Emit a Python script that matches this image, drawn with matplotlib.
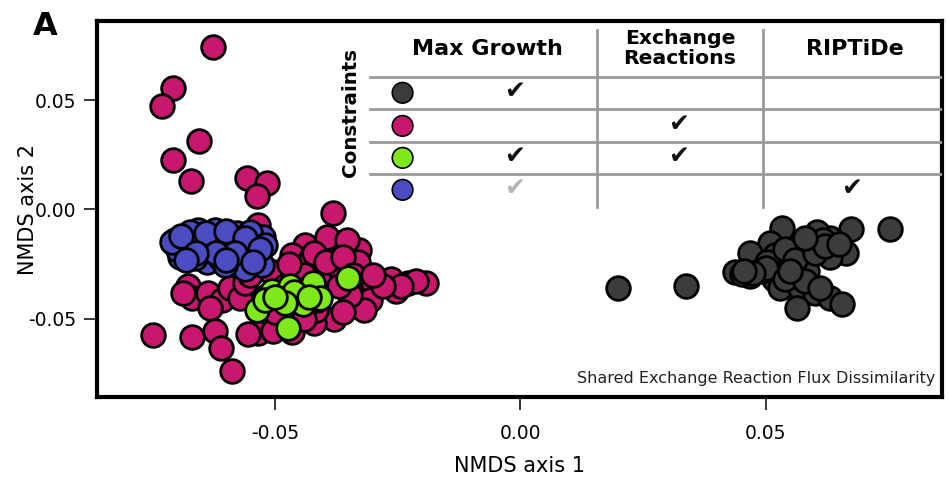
import numpy as np
import matplotlib.pyplot as plt

# NMDS coordinates, one group per constraint set
mag_x = [-0.0626, -0.0708, -0.0730, -0.0654, -0.0708, -0.0671, -0.0556, -0.0515, -0.0536, -0.0382,
         -0.0677, -0.0669, -0.0636, -0.0607, -0.0632, -0.0591, -0.0571, -0.0560, -0.0687,
         -0.0748, -0.0669, -0.0622, -0.0609, -0.0587, -0.0534, -0.0554,
         -0.0438, -0.0464, -0.0372, -0.0329, -0.0393, -0.0352, -0.0454, -0.0407, -0.0387, -0.0299,
         -0.0264, -0.0229, -0.0192, -0.0305, -0.0319, -0.0380, -0.0421, -0.0503, -0.0331, -0.0427,
         -0.0509, -0.0479, -0.0346, -0.0254, -0.0366, -0.0448, -0.0534, -0.0213, -0.0243,
         -0.0420, -0.0395, -0.0360, -0.0340, -0.0440, -0.0470, -0.0415, -0.0360, -0.0500, -0.0520,
         -0.0550, -0.0280, -0.0300, -0.0370, -0.0465, -0.0440]
mag_y = [0.0743, 0.0555, 0.0472, 0.0312, 0.0225, 0.0128, 0.0142, 0.0119, 0.0060, -0.0018,
         -0.0349, -0.0404, -0.0381, -0.0417, -0.0450, -0.0358, -0.0404, -0.0339, -0.0385,
         -0.0573, -0.0583, -0.0555, -0.0633, -0.0739, -0.0564, -0.0569,
         -0.0165, -0.0211, -0.0202, -0.0188, -0.0128, -0.0142, -0.0280, -0.0266, -0.0326, -0.0335,
         -0.0317, -0.0335, -0.0335, -0.0417, -0.0463, -0.0500, -0.0518, -0.0555, -0.0243, -0.0225,
         -0.0280, -0.0349, -0.0390, -0.0372, -0.0280, -0.0486, -0.0073, -0.0326, -0.0349,
         -0.0200, -0.0240, -0.0220, -0.0300, -0.0300, -0.0250, -0.0460, -0.0470, -0.0470, -0.0400,
         -0.0300, -0.0350, -0.0300, -0.0350, -0.0560, -0.0500]

blue_x = [-0.0656, -0.0683, -0.0632, -0.0597, -0.0577, -0.0524, -0.0534, -0.0571, -0.0638, -0.0611,
          -0.0693, -0.0550, -0.0703, -0.0697, -0.0673, -0.0622, -0.0550, -0.0519, -0.0526, -0.0560,
          -0.0601, -0.0663, -0.0652, -0.0591, -0.0710, -0.0690, -0.0640, -0.0600, -0.0560, -0.0530,
          -0.0580, -0.0620, -0.0660, -0.0680, -0.0600, -0.0545]
blue_y = [-0.0096, -0.0165, -0.0174, -0.0128, -0.0110, -0.0128, -0.0220, -0.0234, -0.0243, -0.0225,
          -0.0220, -0.0188, -0.0142, -0.0188, -0.0106, -0.0096, -0.0106, -0.0165, -0.0257, -0.0271,
          -0.0257, -0.0225, -0.0165, -0.0179, -0.0150, -0.0120, -0.0110, -0.0100, -0.0130, -0.0180,
          -0.0200, -0.0200, -0.0200, -0.0230, -0.0230, -0.0240]

green_x = [-0.0505, -0.0536, -0.0474, -0.0434, -0.0454, -0.0413, -0.0350, -0.0489, -0.0442, -0.0423,
           -0.0407, -0.0468, -0.0519, -0.0460, -0.0430, -0.0480, -0.0500]
green_y = [-0.0372, -0.0463, -0.0541, -0.0385, -0.0417, -0.0417, -0.0312, -0.0404, -0.0431, -0.0339,
           -0.0408, -0.0349, -0.0417, -0.0380, -0.0400, -0.0430, -0.0400]

gray_x = [0.0534, 0.0673, 0.0753, 0.0630, 0.0605, 0.0575, 0.0509, 0.0468, 0.0519, 0.0591,
          0.0663, 0.0630, 0.0548, 0.0468, 0.0438, 0.0517, 0.0528, 0.0569, 0.0601, 0.0630,
          0.0656, 0.0564, 0.0200, 0.0337, 0.0493, 0.0554, 0.0585, 0.0616, 0.0452, 0.0503,
          0.0540, 0.0560, 0.0600, 0.0620, 0.0500, 0.0540, 0.0580, 0.0610, 0.0475, 0.0455,
          0.0650, 0.0580, 0.0550]
gray_y = [-0.0087, -0.0092, -0.0092, -0.0133, -0.0106, -0.0156, -0.0156, -0.0202, -0.0211, -0.0179,
          -0.0202, -0.0220, -0.0266, -0.0303, -0.0289, -0.0317, -0.0362, -0.0362, -0.0385, -0.0408,
          -0.0431, -0.0450, -0.0362, -0.0349, -0.0280, -0.0211, -0.0280, -0.0142, -0.0294, -0.0243,
          -0.0180, -0.0230, -0.0200, -0.0170, -0.0270, -0.0320, -0.0330, -0.0360, -0.0290, -0.0280,
          -0.0160, -0.0130, -0.0280]

col_gray = "#3c3c3c"
col_mag = "#c8186e"
col_green = "#7ee81a"
col_blue = "#4a4cbf"

# constraint table
headers = ["Max Growth", "Exchange\nReactions", "RIPTiDe"]
row_colors = [col_gray, col_mag, col_green, col_blue]
checks = [[1, 0, 0], [0, 1, 0], [1, 1, 0], [2, 0, 1]]  # 2 = faded check

fig = plt.figure(figsize=(9.48, 4.86), dpi=100)
ax = fig.add_axes([0.1018, 0.1831, 0.8919, 0.7737])

kw = dict(s=290, edgecolors="black", linewidths=2)
ax.scatter(gray_x, gray_y, c=col_gray, zorder=2, **kw)
ax.scatter(mag_x, mag_y, c=col_mag, zorder=3, **kw)
ax.scatter(blue_x, blue_y, c=col_blue, zorder=4, **kw)
ax.scatter(green_x, green_y, c=col_green, zorder=5, **kw)

ax.set_xlim(-0.0863, 0.0859)
ax.set_ylim(-0.0859, 0.0862)
ax.set_xticks([-0.05, 0.0, 0.05])
ax.set_yticks([-0.05, 0.0, 0.05])
ax.set_xticklabels(["-0.05", "0.00", "0.05"])
ax.set_yticklabels(["-0.05", "0.00", "0.05"])
ax.tick_params(axis="both", direction="out", length=9.5, width=1.1, labelsize=13.5)
ax.tick_params(axis="x", pad=10)
ax.tick_params(axis="y", pad=5)
for sp in ax.spines.values():
    sp.set_linewidth(3)

ax.set_xlabel("NMDS axis 1", fontsize=15)
ax.set_ylabel("NMDS axis 2", fontsize=15)
ax.xaxis.set_label_coords(0.5, -0.157)
ax.yaxis.set_label_coords(-0.069, 0.5)

fig.text(0.035, 0.928, "A", fontsize=23, fontweight="bold")

# table drawn in axes coordinates
tr = ax.transAxes
col_x = [0.495, 0.688, 0.893]
row_y = [0.809, 0.721, 0.636, 0.551]
for x, h in zip([0.462, 0.690, 0.897], headers):
    fs = 14.7 if "\n" in h else 16
    ax.text(x, 0.926, h, transform=tr, ha="center", va="center", fontsize=fs,
            fontweight="bold", linespacing=1.05, zorder=10)
ax.text(0.300, 0.758, "Constraints", transform=tr, rotation=90, ha="center", va="center",
        fontsize=14.3, fontweight="bold", zorder=10)
for y in [0.851, 0.766, 0.678, 0.593]:
    ax.plot([0.323, 1.0], [y, y], transform=tr, color="#9a9a9a", lw=2, zorder=9)
for x in [0.592, 0.788]:
    ax.plot([x, x], [0.505, 0.976], transform=tr, color="#9a9a9a", lw=2, zorder=9)
ax.scatter([0.362] * 4, row_y, transform=tr, c=row_colors, s=220, edgecolors="black",
           linewidths=1.2, zorder=10)
for y, row in zip(row_y, checks):
    for x, v in zip(col_x, row):
        if v:
            ax.text(x, y + 0.005, "\u2714", transform=tr, ha="center", va="center",
                    fontsize=18, color="#111111" if v == 1 else "#b4b4b4", zorder=10)

ax.text(0.992, 0.05, "Shared Exchange Reaction Flux Dissimilarity", transform=tr,
        ha="right", va="center", fontsize=11.5, color="#222222", zorder=10)

fig.savefig("out.png", dpi=100)
